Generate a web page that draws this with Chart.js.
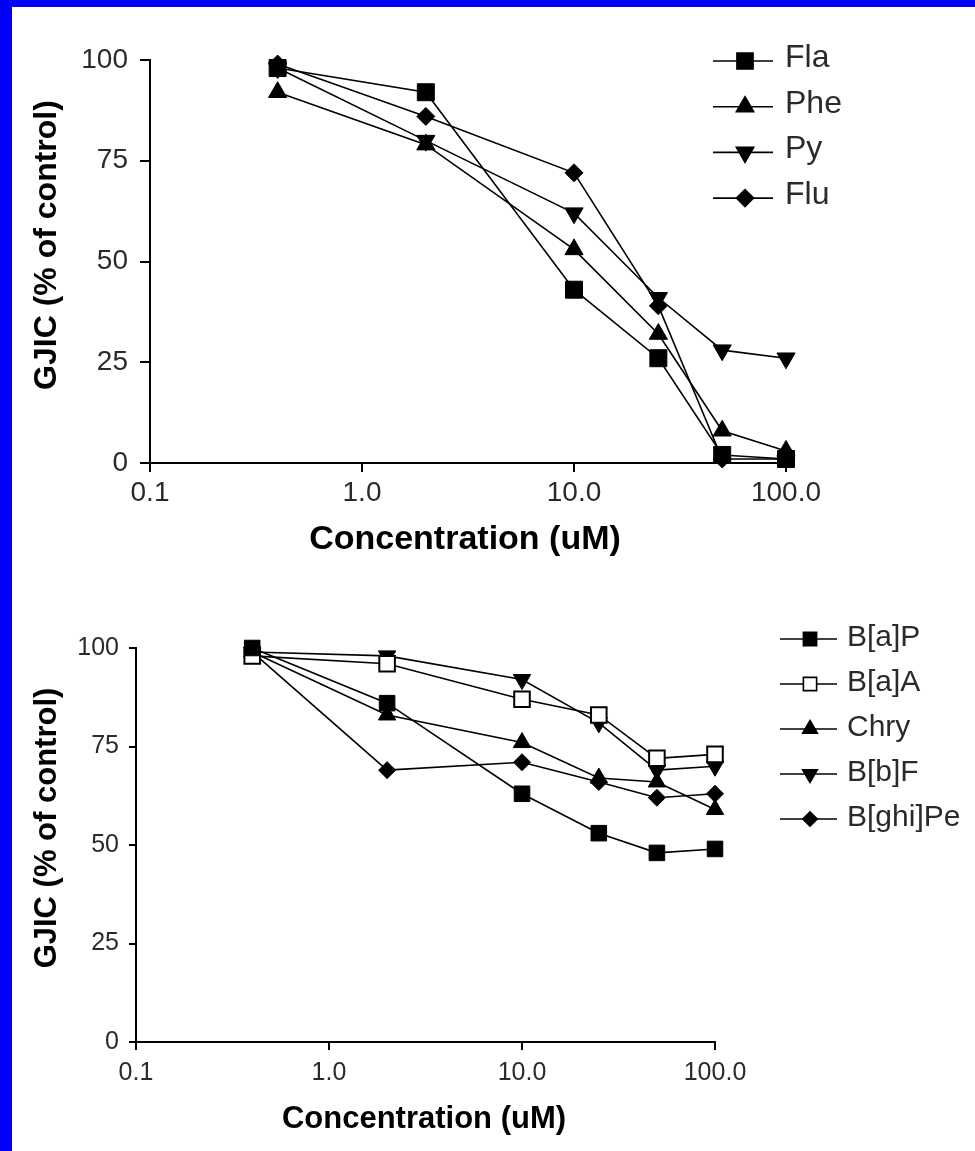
<!DOCTYPE html>
<html>
<head>
<meta charset="utf-8">
<title>GJIC vs concentration</title>
<script src="https://cdn.jsdelivr.net/npm/chart.js@4.4.1/dist/chart.umd.min.js"></script>
<style>
  html, body { margin: 0; padding: 0; background: #fff; }
  #page { position: relative; width: 975px; height: 1151px; background: #fff; overflow: hidden; }
  .band { position: absolute; background: #0000ff; }
  #band-left { left: 0; top: 0; width: 12px; height: 1151px; }
  #band-top { left: 0; top: 0; width: 975px; height: 7px; }
  canvas { position: absolute; left: 12px; }
  #top-chart { top: 7px; }
  #bottom-chart { top: 580px; }
</style>
</head>
<body>
<div id="page">
  <div class="band" id="band-left"></div>
  <div class="band" id="band-top"></div>
  <canvas id="top-chart" width="963" height="573"></canvas>
  <canvas id="bottom-chart" width="963" height="571"></canvas>
</div>
<script>
// --- DATA ---
const concentrations = [0.4, 2, 10, 25, 50, 100];
const xTickValues = [0.1, 1, 10, 100];
const xTickLabels = ['0.1', '1.0', '10.0', '100.0'];
const yTickValues = [0, 25, 50, 75, 100];

// upper panel: 3-4 ring PAHs
const topNames = ['Fla', 'Phe', 'Py', 'Flu'];
const flaValues = [98, 92, 43, 26, 2, 1];
const pheValues = [92, 79, 53, 32, 8, 3];
const pyValues = [98, 80, 62, 41, 28, 26];
const fluValues = [99, 86, 72, 39, 1, 1];

// lower panel: 4-6 ring PAHs
const bottomNames = ['B[a]P', 'B[a]A', 'Chry', 'B[b]F', 'B[ghi]Pe'];
const bapValues = [100, 86, 63, 53, 48, 49];
const baaValues = [98, 96, 87, 83, 72, 73];
const chryValues = [99, 83, 76, 67, 66, 59];
const bbfValues = [99, 98, 92, 81, 69, 70];
const bghipeValues = [99, 69, 71, 66, 62, 63];

const xTitle = 'Concentration (uM)';
const yTitle = 'GJIC (% of control)';

// --- STYLE ---
const FONT = "'Liberation Sans', Arial, sans-serif";
const LABEL_COLOR = '#2a2a2a';
const MARKERS = {
    square: { style: 'rect', rotation: 0, fill: '#000' },
    openSquare: { style: 'rect', rotation: 0, fill: '#fff' },
    up: { style: 'triangle', rotation: 0, fill: '#000' },
    down: { style: 'triangle', rotation: 180, fill: '#000' },
    diamond: { style: 'rectRot', rotation: 0, fill: '#000' }
};

function series(label, values, markerName, radius) {
    const m = MARKERS[markerName];
    return {
        label: label,
        data: values.map((v, i) => ({ x: concentrations[i], y: v })),
        borderColor: '#000',
        borderWidth: 1.6,
        pointStyle: m.style,
        pointRotation: m.rotation,
        pointRadius: radius[m.style],
        pointHoverRadius: radius[m.style],
        pointBackgroundColor: m.fill,
        pointBorderColor: '#000',
        pointBorderWidth: markerName === 'openSquare' ? 2 : 1,
        tension: 0,
        fill: false,
        clip: false
    };
}

// axis titles and the line+marker key are drawn here
const panelDecor = {
    id: 'panelDecor',
    afterDraw(chart, args, opts) {
        const ctx = chart.ctx;
        ctx.save();
        ctx.fillStyle = '#000';
        ctx.textAlign = 'center';
        ctx.textBaseline = 'middle';

        ctx.font = `bold ${opts.xTitleSize}px ${FONT}`;
        ctx.fillText(xTitle, opts.xTitleAt[0], opts.xTitleAt[1]);
        ctx.font = `bold ${opts.yTitleSize}px ${FONT}`;
        ctx.save();
        ctx.translate(opts.yTitleAt[0], opts.yTitleAt[1]);
        ctx.rotate(-Math.PI / 2);
        ctx.fillText(yTitle, 0, 0);
        ctx.restore();

        const key = opts.key;
        chart.data.datasets.forEach((ds, i) => {
            const y = key.top + i * key.gap;
            ctx.strokeStyle = '#000';
            ctx.lineWidth = ds.borderWidth;
            ctx.beginPath();
            ctx.moveTo(key.lineFrom, y);
            ctx.lineTo(key.lineTo, y);
            ctx.stroke();

            ctx.fillStyle = ds.pointBackgroundColor;
            ctx.strokeStyle = ds.pointBorderColor;
            Chart.helpers.drawPoint(ctx, {
                pointStyle: ds.pointStyle,
                rotation: ds.pointRotation,
                radius: ds.pointRadius * key.markerScale,
                borderWidth: ds.pointBorderWidth
            }, key.marker, y);

            ctx.fillStyle = LABEL_COLOR;
            ctx.font = `${key.fontSize}px ${FONT}`;
            ctx.textAlign = 'left';
            ctx.fillText(ds.label, key.text, y + key.textDy);
        });
        ctx.restore();
    }
};

function buildOptions(p) {
    return {
        responsive: false,
        animation: false,
        events: [],
        layout: { padding: { left: 0, top: p.areaTop, right: p.canvasW - p.areaRight, bottom: 0 } },
        plugins: {
            legend: { display: false },
            tooltip: { enabled: false },
            panelDecor: p.decor
        },
        scales: {
            x: {
                type: 'logarithmic',
                min: 0.1,
                max: 100,
                afterBuildTicks: (scale) => { scale.ticks = xTickValues.map(v => ({ value: v })); },
                afterFit: (scale) => { scale.height = p.canvasH - p.areaBottom; },
                ticks: {
                    autoSkip: false,
                    maxRotation: 0,
                    padding: p.xTickPad,
                    color: LABEL_COLOR,
                    font: { family: FONT, size: p.tickSize },
                    callback: (value) => xTickLabels[xTickValues.indexOf(value)]
                },
                grid: { display: true, drawOnChartArea: false, drawTicks: true, tickLength: p.xTickLen, color: '#000', lineWidth: 2 },
                border: { display: true, color: '#000', width: 2 }
            },
            y: {
                min: 0,
                max: 100,
                afterBuildTicks: (scale) => { scale.ticks = yTickValues.map(v => ({ value: v })); },
                afterFit: (scale) => { scale.width = p.areaLeft; },
                ticks: {
                    padding: p.yTickPad,
                    color: LABEL_COLOR,
                    font: { family: FONT, size: p.tickSize }
                },
                grid: { display: true, drawOnChartArea: false, drawTicks: true, tickLength: p.yTickLen, color: '#000', lineWidth: 2 },
                border: { display: true, color: '#000', width: 2 }
            }
        }
    };
}

// --- UPPER PANEL ---
const topRadius = { rect: 12, triangle: 10.5, rectRot: 9 };
new Chart(document.getElementById('top-chart'), {
    type: 'line',
    data: {
        datasets: [
            series(topNames[0], flaValues, 'square', topRadius),
            series(topNames[1], pheValues, 'up', topRadius),
            series(topNames[2], pyValues, 'down', topRadius),
            series(topNames[3], fluValues, 'diamond', topRadius)
        ]
    },
    options: buildOptions({
        canvasW: 963, canvasH: 573,
        areaLeft: 138, areaRight: 774, areaTop: 53, areaBottom: 456,
        tickSize: 28, xTickPad: 4, yTickPad: 12, xTickLen: 9, yTickLen: 10,
        decor: {
            xTitleSize: 34, yTitleSize: 32,
            xTitleAt: [453, 533],
            yTitleAt: [35, 238],
            key: { top: 54, gap: 45.7, lineFrom: 701, lineTo: 761, marker: 733, text: 773,
                   textDy: -3, fontSize: 32, markerScale: 0.95 }
        }
    }),
    plugins: [panelDecor]
});

// --- LOWER PANEL ---
const bottomRadius = { rect: 11, triangle: 10, rectRot: 8.5 };
new Chart(document.getElementById('bottom-chart'), {
    type: 'line',
    data: {
        datasets: [
            series(bottomNames[0], bapValues, 'square', bottomRadius),
            series(bottomNames[1], baaValues, 'openSquare', bottomRadius),
            series(bottomNames[2], chryValues, 'up', bottomRadius),
            series(bottomNames[3], bbfValues, 'down', bottomRadius),
            series(bottomNames[4], bghipeValues, 'diamond', bottomRadius)
        ]
    },
    options: buildOptions({
        canvasW: 963, canvasH: 571,
        areaLeft: 124, areaRight: 703, areaTop: 68, areaBottom: 462,
        tickSize: 25, xTickPad: 8, yTickPad: 10, xTickLen: 8, yTickLen: 7,
        decor: {
            xTitleSize: 31, yTitleSize: 31,
            xTitleAt: [412, 539],
            yTitleAt: [35, 248],
            key: { top: 59, gap: 45, lineFrom: 768, lineTo: 825, marker: 798, text: 835,
                   textDy: -1, fontSize: 30, markerScale: 0.85 }
        }
    }),
    plugins: [panelDecor]
});
</script>
</body>
</html>
